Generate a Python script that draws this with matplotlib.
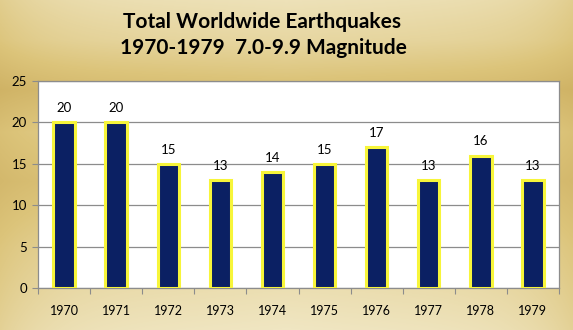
import numpy as np
import matplotlib
matplotlib.use("Agg")
import matplotlib.pyplot as plt
from matplotlib.colors import LinearSegmentedColormap

years = ["1970", "1971", "1972", "1973", "1974", "1975", "1976", "1977", "1978", "1979"]
quakes = [20, 20, 15, 13, 14, 15, 17, 13, 16, 13]

W, H = 573, 330
fig = plt.figure(figsize=(W / 100, H / 100), dpi=100)

# gold metallic backdrop: vertical banding plus darker side edges
bg = fig.add_axes([0, 0, 1, 1])
bg.set_axis_off()
ys = np.linspace(0, 1, H)[:, None]
xs = np.linspace(0, 1, W)[None, :]
stops_y = [0.0, 0.12, 0.27, 0.40, 0.55, 0.75, 1.0]
tone_y = [0.85, 0.70, 0.35, 0.60, 0.45, 0.70, 0.92]
tone = np.interp(ys.ravel(), stops_y, tone_y)[:, None]
edge = 1 - 0.25 * (np.abs(xs - 0.5) * 2) ** 6
field = np.clip(tone * edge + 0.08 * (1 - np.abs(xs - 0.5) * 2), 0, 1)
gold = LinearSegmentedColormap.from_list("gold", ["#c2a04f", "#dcc47a", "#f0e6c2"])
bg.imshow(field, cmap=gold, aspect="auto", extent=[0, 1, 0, 1], vmin=0, vmax=1)

fig.text(262 / W, 1 - 22 / H, "Total Worldwide Earthquakes", ha="center", va="center",
         fontsize=15, fontweight="bold", family="Lato", color="black")
fig.text(263 / W, 1 - 48 / H, "1970-1979  7.0-9.9 Magnitude", ha="center", va="center",
         fontsize=15, fontweight="bold", family="Lato", color="black")

left, right, top, bottom = 38, 559, 81, 288
ax = fig.add_axes([left / W, 1 - bottom / H, (right - left) / W, (bottom - top) / H])
ax.set_facecolor("white")
x = np.arange(len(years))
bars = ax.bar(x, quakes, width=0.41, color="#0b2063", edgecolor="#f7f53a",
              linewidth=2.2, zorder=3)
for xi, v in zip(x, quakes):
    ax.text(xi, v + 1.0, str(v), ha="center", va="bottom", fontsize=9.5,
            family="Lato", color="black")

ax.set_xlim(-0.5, len(years) - 0.5)
ax.set_ylim(0, 25)
ax.set_yticks([0, 5, 10, 15, 20, 25])
ax.yaxis.grid(True, color="#8c8c8c", linewidth=0.9)
ax.set_axisbelow(True)
ax.set_xticks(np.arange(-0.5, len(years)), minor=False)
ax.set_xticklabels([])
ax.set_xticks(x, minor=True)
ax.set_xticklabels(years, minor=True)
ax.tick_params(axis="x", which="major", length=4, color="#8c8c8c", direction="out")
ax.tick_params(axis="x", which="minor", length=0, pad=12, labelsize=9)
ax.tick_params(axis="y", length=4, color="#8c8c8c", labelsize=9.5, pad=4)
for lab in ax.get_xticklabels(minor=True) + ax.get_yticklabels():
    lab.set_family("Lato")
for side in ax.spines:
    ax.spines[side].set_color("#8c8c8c")
    ax.spines[side].set_linewidth(0.9)

fig.savefig("out.png", dpi=100)
